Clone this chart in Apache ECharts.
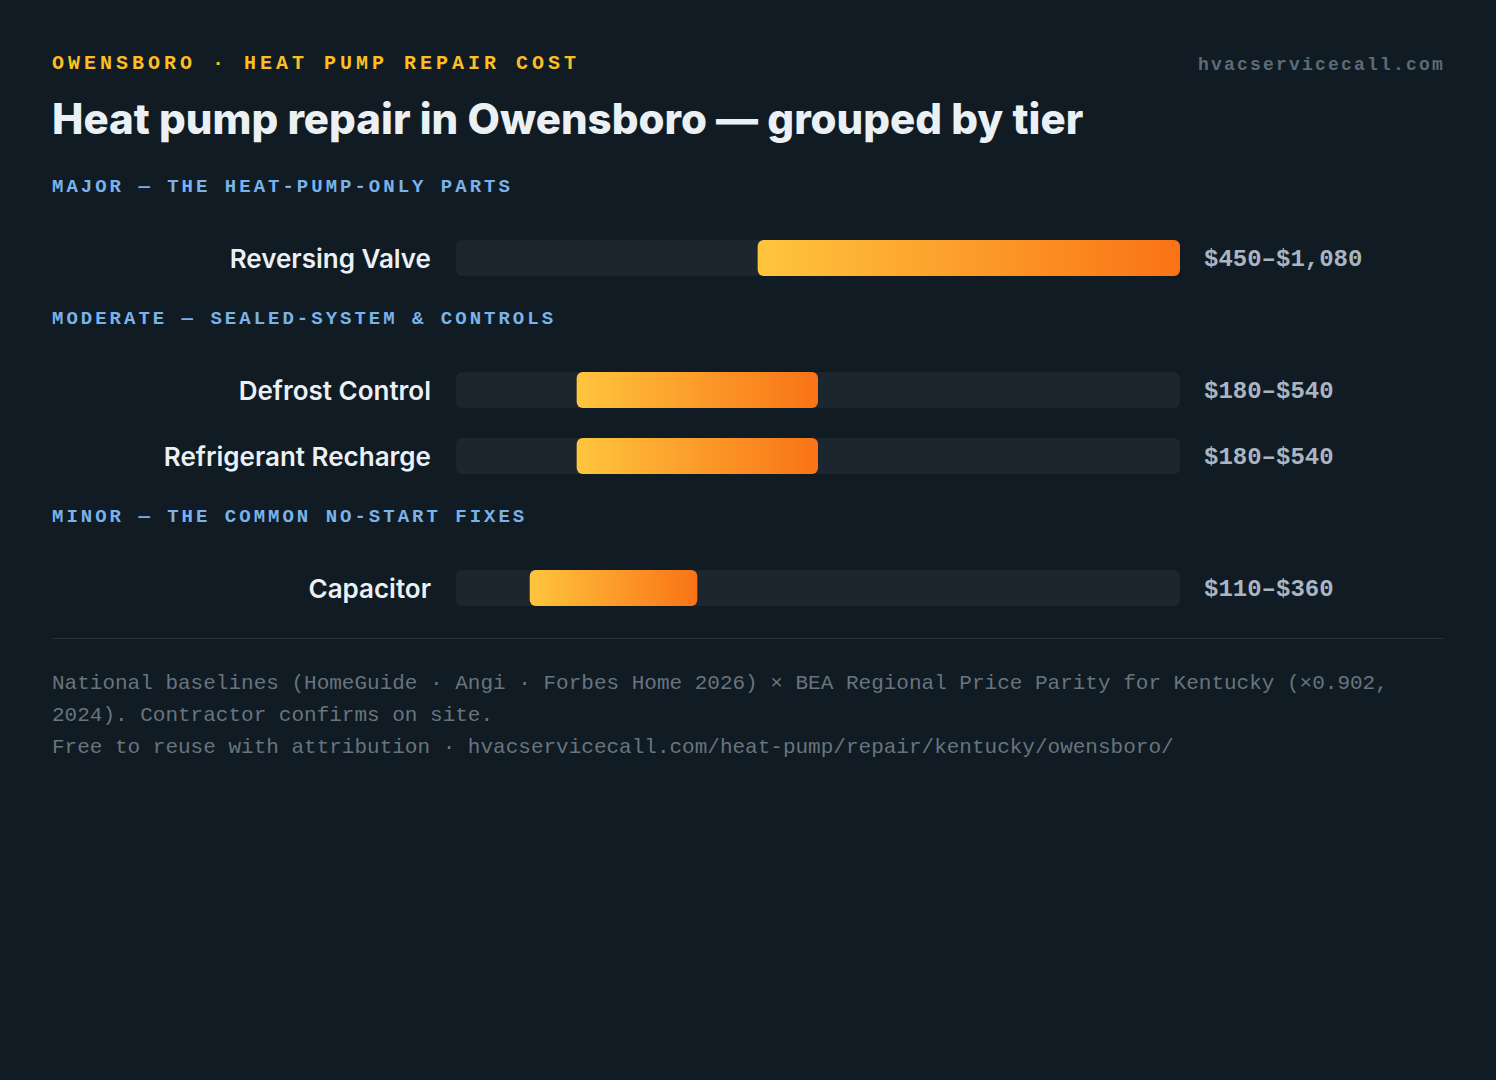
<!DOCTYPE html>
<html><head><meta charset="utf-8">
<style>html,body{margin:0;padding:0;background:#101b23;}#c{width:1496px;height:1080px;}</style>
<script src="https://cdn.jsdelivr.net/npm/echarts@6/dist/echarts.min.js"></script>
</head><body><div id="c"></div>
<script>
const eyebrow = 'OWENSBORO · HEAT PUMP REPAIR COST';
const titleText = 'Heat pump repair in Owensboro — grouped by tier';
const siteText = 'hvacservicecall.com';
const tierNames = ['MAJOR — THE HEAT-PUMP-ONLY PARTS', 'MODERATE — SEALED-SYSTEM & CONTROLS', 'MINOR — THE COMMON NO-START FIXES'];
const categories = ['Reversing Valve', 'Defrost Control', 'Refrigerant Recharge', 'Capacitor'];
const tierOf = [0, 1, 1, 2];
const lows = [450, 180, 180, 110];
const highs = [1080, 540, 540, 360];
const axisMax = 1080;
const footerLines = [
  'National baselines (HomeGuide · Angi · Forbes Home 2026) × BEA Regional Price Parity for Kentucky (×0.902,',
  '2024). Contractor confirms on site.',
  'Free to reuse with attribution · hvacservicecall.com/heat-pump/repair/kentucky/owensboro/'
];

// build rows with gap slots between tiers
const axisData = [], trackData = [], baseData = [], rangeData = [], rowIdx = [];
categories.forEach((c, i) => {
  if (i > 0 && tierOf[i] !== tierOf[i - 1]) {
    axisData.push('gap' + i); trackData.push('-'); baseData.push('-'); rangeData.push('-'); rowIdx.push(-1);
  }
  axisData.push(c); trackData.push(axisMax); baseData.push(lows[i]); rangeData.push(highs[i] - lows[i]); rowIdx.push(i);
});
const fmt = v => '$' + v.toLocaleString('en-US');

const chart = echarts.init(document.getElementById('c'), null, {renderer: 'svg'});
const mono = '"Liberation Mono", "DejaVu Sans Mono", monospace';
const sans = 'Inter, "Noto Sans", sans-serif';

const headerTops = [187, 319, 517];
const graphics = [
  {type: 'text', left: 52, top: 53, style: {text: eyebrow, font: 'bold 20px ' + mono, fill: '#fbbf24'}},
  {type: 'text', left: 1198, top: 56, style: {text: siteText, font: 'bold 18px ' + mono, fill: '#5d6b78'}},
  {type: 'text', left: 52, top: 97, style: {text: titleText, font: '800 42px ' + sans, fill: '#eaf0f4'}},
  {type: 'rect', left: 52, top: 638, shape: {width: 1392, height: 1}, style: {fill: '#263139'}}
];
tierNames.forEach((t, k) => graphics.push({type: 'text', left: 52, top: headerTops[k] - 10, style: {text: t, font: 'bold 19px ' + mono, fill: '#7ab3ea'}}));
footerLines.forEach((t, k) => graphics.push({type: 'text', left: 52, top: 673 + k * 32, style: {text: t, font: '21px ' + mono, fill: '#68747e'}}));

chart.setOption({
  backgroundColor: '#101b23',
  animation: false,
  graphic: graphics,
  grid: {left: 456, right: 316, top: 225, height: 396},
  xAxis: {type: 'value', min: 0, max: axisMax, show: false},
  yAxis: {
    type: 'category', data: axisData, inverse: true,
    axisLine: {show: false}, axisTick: {show: false}, splitLine: {show: false},
    axisLabel: {
      margin: 25, color: '#eaf0f4', fontFamily: sans, fontWeight: 600, fontSize: 26,
      formatter: v => v.startsWith('gap') ? '' : v
    }
  },
  series: [
    {
      type: 'bar', data: trackData, barWidth: 36, barGap: '-100%', silent: true,
      itemStyle: {color: '#1b262e', borderRadius: 6},
      label: {
        show: true, position: 'right', distance: 24, offset: [0, 1],
        color: '#a9b6c2', fontFamily: mono, fontWeight: 'bold', fontSize: 24,
        formatter: p => { const i = rowIdx[p.dataIndex]; return i < 0 ? '' : fmt(lows[i]) + '–' + fmt(highs[i]); }
      }
    },
    {type: 'bar', stack: 'r', data: baseData, barWidth: 36, barGap: '-100%', silent: true, itemStyle: {color: 'rgba(0,0,0,0)'}},
    {
      type: 'bar', stack: 'r', data: rangeData, barWidth: 36, barGap: '-100%',
      itemStyle: {
        borderRadius: 6,
        color: new echarts.graphic.LinearGradient(0, 0, 1, 0, [{offset: 0, color: '#ffc53d'}, {offset: 1, color: '#f97316'}])
      }
    }
  ]
});

// letter spacing for the tracked-out labels (SVG text attribute)
const spacing = {};
spacing[eyebrow] = 4; spacing[siteText] = 2.2;
tierNames.forEach(t => spacing[t] = 3);
function applySpacing() {
  document.querySelectorAll('#c svg text').forEach(el => {
    const s = spacing[el.textContent];
    if (s !== undefined) el.setAttribute('letter-spacing', s + 'px');
  });
}
applySpacing();
chart.on('finished', applySpacing);
setTimeout(applySpacing, 50);
</script></body></html>
